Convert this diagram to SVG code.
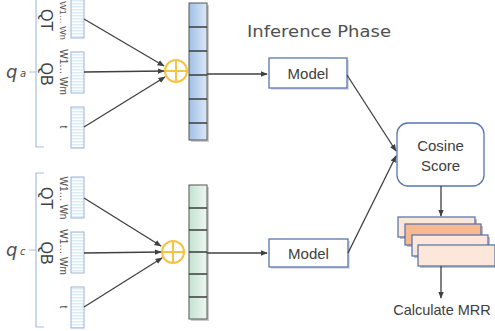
<svg xmlns="http://www.w3.org/2000/svg" width="495" height="331" viewBox="0 0 495 331">
<defs>
<pattern id="stripe" width="13" height="3" patternUnits="userSpaceOnUse">
<rect width="13" height="3" fill="#ffffff"/>
<rect width="13" height="1.5" fill="#d8ecfa"/>
</pattern>
<linearGradient id="blueG" x1="0" y1="0" x2="1" y2="0">
<stop offset="0" stop-color="#9fc1e6"/>
<stop offset="1" stop-color="#dbe8f5"/>
</linearGradient>
<linearGradient id="greenG" x1="0" y1="0" x2="1" y2="0">
<stop offset="0" stop-color="#c3e3d1"/>
<stop offset="1" stop-color="#eef7f1"/>
</linearGradient>
<marker id="arr" viewBox="0 0 10 10" refX="9" refY="5" markerWidth="5.5" markerHeight="5.5" orient="auto">
<path d="M0,1 L10,5 L0,9 z" fill="#404040"/>
</marker>
</defs>
<style>
.inbar{fill:url(#stripe);stroke:#9fb4d6;stroke-width:1}
.brk{fill:none;stroke:#a8bde0;stroke-width:1.2}
.lbl{font-family:"Liberation Sans",Arial,sans-serif;fill:#404040}
.small{font-family:"Liberation Sans",Arial,sans-serif;fill:#505050;font-size:10px}
.q{font-family:"DejaVu Sans",sans-serif;font-style:italic;fill:#505050}
.conn{stroke:#404040;stroke-width:1.3;fill:none}
.plus{fill:none;stroke:#f7c245;stroke-width:2}
.cell{stroke:#3c3c3c;stroke-width:1.5}
.box{fill:#ffffff;stroke:#5676b2;stroke-width:1.3}
.card{stroke:#5070aa;stroke-width:1.2}
.shadow{fill:#9a9a9a;opacity:0.6}
</style>

<g id="query-a">
<path class="brk" d="M44,147 L36,147 L36,-2 M36,72 L29,72"/>
<text class="q" x="6" y="78" font-size="18">q</text>
<text class="q" x="20" y="77" font-size="10">a</text>
<rect class="inbar" x="71" y="-2" width="13" height="40"/>
<rect class="inbar" x="71" y="52" width="13" height="41"/>
<rect class="inbar" x="71" y="107" width="13" height="41"/>
<text class="lbl" font-size="16" transform="translate(41,20) rotate(90)" text-anchor="middle">QT</text>
<text class="small" font-size="9" style="font-size:9px" transform="translate(60,20.5) rotate(90)" text-anchor="middle">W1… Wn</text>
<text class="lbl" font-size="16" transform="translate(41,74) rotate(90)" text-anchor="middle">QB</text>
<text class="small" transform="translate(60,72) rotate(90)" text-anchor="middle">W1… Wm</text>
<text class="small" transform="translate(60,127) rotate(90)" text-anchor="middle">t</text>
</g>

<g id="query-c">
<path class="brk" d="M44,173 L36,173 L36,327 L44,327 M36,250 L29,250"/>
<text class="q" x="6" y="256" font-size="18">q</text>
<text class="q" x="20" y="255" font-size="10">c</text>
<rect class="inbar" x="71" y="177" width="13" height="41"/>
<rect class="inbar" x="71" y="232" width="13" height="41"/>
<rect class="inbar" x="71" y="287" width="13" height="41"/>
<text class="lbl" font-size="16" transform="translate(41,198) rotate(90)" text-anchor="middle">QT</text>
<text class="small" transform="translate(60,198) rotate(90)" text-anchor="middle">W1… Wn</text>
<text class="lbl" font-size="16" transform="translate(41,253) rotate(90)" text-anchor="middle">QB</text>
<text class="small" transform="translate(60,252) rotate(90)" text-anchor="middle">W1… Wm</text>
<text class="small" transform="translate(60,307) rotate(90)" text-anchor="middle">t</text>
</g>

<g id="sum-a">
<circle class="plus" cx="176" cy="71" r="11"/>
<path class="plus" d="M165,71 H187 M176,60 V82"/>
</g>
<g id="sum-c">
<circle class="plus" cx="173" cy="252" r="11"/>
<path class="plus" d="M162,252 H184 M173,241 V263"/>
</g>

<g id="vec-a">
<rect x="191" y="5" width="18" height="137" fill="#999" opacity="0.5"/>
<rect x="189" y="3" width="18" height="137" fill="url(#blueG)" stroke="#555" stroke-width="1"/>
<path class="cell" d="M189,27 H207 M189,51 H207 M189,75 H207 M189,99 H207 M189,123 H207"/>
</g>
<g id="vec-c">
<rect x="191" y="187" width="18" height="134" fill="#999" opacity="0.5"/>
<rect x="189" y="185" width="18" height="134" fill="url(#greenG)" stroke="#555" stroke-width="1"/>
<path class="cell" d="M189,208 H207 M189,230 H207 M189,252 H207 M189,274 H207 M189,297 H207"/>
</g>

<text id="title" x="247" y="37" font-family="DejaVu Sans, sans-serif" font-size="15" fill="#505050" textLength="144" lengthAdjust="spacingAndGlyphs">Inference Phase</text>

<g id="model-a">
<rect x="271" y="60" width="78" height="30" fill="#bbb" opacity="0.5"/>
<rect class="box" x="269" y="58" width="78" height="30"/>
<text class="lbl" x="308" y="78.5" font-size="15" text-anchor="middle">Model</text>
</g>
<g id="model-c">
<rect x="271" y="241" width="79" height="28" fill="#bbb" opacity="0.5"/>
<rect class="box" x="269" y="239" width="79" height="28"/>
<text class="lbl" x="308.5" y="258.5" font-size="15" text-anchor="middle">Model</text>
</g>

<g id="cosine">
<rect class="box" x="397" y="123" width="87" height="63" rx="11"/>
<text class="lbl" x="440.5" y="151" font-size="15" text-anchor="middle">Cosine</text>
<text class="lbl" x="440.5" y="171" font-size="15" text-anchor="middle">Score</text>
</g>

<g id="ranked-list">
<rect class="shadow" x="400" y="219" width="77" height="20"/>
<rect class="card" x="398" y="217" width="77" height="20" fill="#fce7da"/>
<rect class="shadow" x="407" y="226" width="76" height="21"/>
<rect class="card" x="405" y="224" width="76" height="21" fill="#f6ba93"/>
<rect class="shadow" x="414" y="237" width="76" height="21"/>
<rect class="card" x="412" y="235" width="76" height="21" fill="#fce7da"/>
<rect class="shadow" x="420" y="247" width="77" height="21"/>
<rect class="card" x="418" y="245" width="77" height="21" fill="#fce7da"/>
</g>

<text id="mrr" class="lbl" x="442" y="315" font-size="14.5" text-anchor="middle">Calculate MRR</text>

<g id="connectors">
<line class="conn" x1="84" y1="19" x2="164" y2="66" marker-end="url(#arr)"/>
<line class="conn" x1="84" y1="72" x2="164" y2="71" marker-end="url(#arr)"/>
<line class="conn" x1="84" y1="127" x2="165" y2="77" marker-end="url(#arr)"/>
<line class="conn" x1="84" y1="198" x2="161" y2="246" marker-end="url(#arr)"/>
<line class="conn" x1="84" y1="253" x2="161" y2="252" marker-end="url(#arr)"/>
<line class="conn" x1="84" y1="307" x2="162" y2="258" marker-end="url(#arr)"/>
<line class="conn" x1="207" y1="74" x2="267" y2="74" marker-end="url(#arr)"/>
<line class="conn" x1="207" y1="253" x2="267" y2="253" marker-end="url(#arr)"/>
<line class="conn" x1="347" y1="75" x2="396" y2="151" marker-end="url(#arr)"/>
<line class="conn" x1="348" y1="253" x2="396" y2="156" marker-end="url(#arr)"/>
<line class="conn" x1="441" y1="186" x2="441" y2="216" marker-end="url(#arr)"/>
<line class="conn" x1="441" y1="266" x2="441" y2="298" marker-end="url(#arr)"/>
</g>
</svg>
